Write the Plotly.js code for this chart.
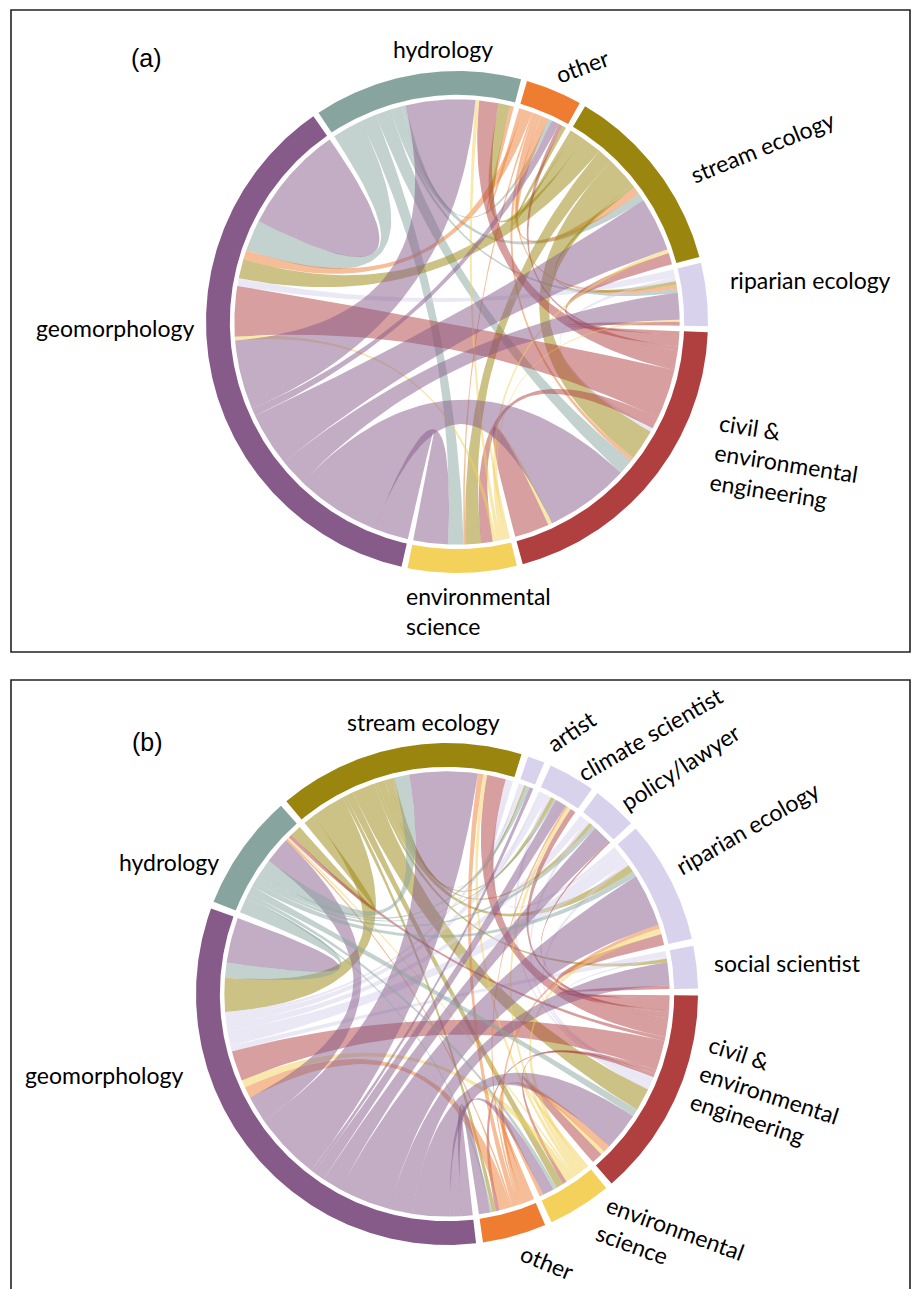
<!DOCTYPE html>
<html><head><meta charset="utf-8">
<script src="https://cdn.plot.ly/plotly-3.0.1.min.js"></script>
<style>html,body{margin:0;padding:0;background:#fff}</style>
</head><body><div id="chart" style="width:912px;height:1289px"></div>
<script>
// ---------------- Panel (a) data ----------------
const catsA = ['hydrology','other','stream ecology','riparian ecology','civil & environmental engineering','environmental science','geomorphology'];
const colorsA = ['#87a59e','#ee7d31','#9a850e','#d8d2ec','#b03f3f','#f3d15a','#865b8a'];
// links: source index, target index, value (sector order clockwise)
const srcA = [0,0,0,0,0,0, 1,1,1,1,1,1, 2,2,2,2,2,2, 3,3, 4,4,4,4,4,4,4, 5,5,5,5,5, 6,6,6,6,6,6,6];
const tgtA = [1,2,3,4,5,6, 0,2,3,4,5,6, 0,1,3,4,5,6, 4,6, 0,1,2,3,4,5,6, 0,2,3,4,6, 0,1,2,3,4,5,6];
const valA = [1,2,1,4,4,8, 1,2,1,1,0.5,2.5, 3,1,1,8,4,5, 1,2, 5,1,3,1,4.5,3,13, 1,1,0.5,1,1, 18,2,14,7,22,9,14];

// ---------------- Panel (b) data ----------------
const catsB = ['stream ecology','artist','climate scientist','policy/lawyer','riparian ecology','social scientist','civil & environmental engineering','environmental science','other','geomorphology','hydrology'];
const colorsB = ['#9a850e','#d8d2ec','#d8d2ec','#d8d2ec','#d8d2ec','#d8d2ec','#b03f3f','#f3d15a','#ee7d31','#865b8a','#87a59e'];
const srcB = [0,0,0,0,0,0,0,0,0,0, 1,1, 2,2,2, 3,3, 4,4,4, 5,5, 6,6,6,6,6,6,6,6,6,6, 7,7,7,7,7,7, 8,8,8,8,8,8,8, 9,9,9,9,9,9,9,9,9,9,9, 10,10,10,10,10,10,10,10,10];
const tgtB = [1,2,3,4,5,6,7,8,9,10, 0,9, 0,6,9, 6,9, 0,6,9, 6,9, 0,2,3,4,5,6,7,8,9,10, 0,2,4,6,9,10, 0,2,4,6,7,9,10, 0,1,2,3,4,5,6,7,8,9,10, 0,1,2,3,4,6,7,8,9];
const valB = [0.5,1,1,2,1,6,2,1,9,3, 0.5,1, 0.5,1,2, 1,2, 1,1,4, 0.5,1.5, 5,1.5,0.5,3,1,1.5,1,1,8,1, 1,1,1.5,1,2,0.5, 1.5,0.5,1,2,1,3,0.5, 18,1,3,5,14,6,10,3,3,6,7, 4,1,0.5,1,1.5,2,1,0.5,4];

const R_OUT = 1.0, R_IN = 0.905, R_CH = 0.887;

function rgba(hex, a){
  const h = hex.replace('#','');
  const r = parseInt(h.substr(0,2),16), g = parseInt(h.substr(2,2),16), b = parseInt(h.substr(4,2),16);
  return 'rgba('+r+','+g+','+b+','+a+')';
}
function pt(r, deg){ const t = deg*Math.PI/180; return [r*Math.cos(t), r*Math.sin(t)]; }
function arcPts(r, d1, d2, xs, ys){
  const steps = Math.max(2, Math.ceil(Math.abs(d2-d1)/0.5));
  for(let s=0;s<=steps;s++){ const p = pt(r, d1+(d2-d1)*s/steps); xs.push(p[0]); ys.push(p[1]); }
}
function bez(p0, p2, xs, ys){
  const N = 40;
  for(let s=1;s<N;s++){ const t=s/N; const a=(1-t)*(1-t), c=t*t;
    xs.push(a*p0[0]+c*p2[0]); ys.push(a*p0[1]+c*p2[1]); }
}

function buildChord(cats, colors, src, tgt, val, startDeg, gapDeg, xa, ya){
  const n = cats.length;
  const total = new Array(n).fill(0);
  for(let k=0;k<src.length;k++){ total[src[k]] += val[k]; total[tgt[k]] += val[k]; }
  const sumAll = total.reduce((a,b)=>a+b,0);
  const scale = (360 - n*gapDeg)/sumAll;
  const start = []; const end = [];
  let a = startDeg;
  for(let i=0;i<n;i++){ start[i]=a; end[i]=a-total[i]*scale; a = end[i]-gapDeg; }
  const ends = cats.map(()=>[]);
  for(let k=0;k<src.length;k++){
    const s=src[k], t=tgt[k];
    if(s===t){ ends[s].push({k, role:'s0', grp:2, d:-1}); ends[s].push({k, role:'s1', grp:2, d:-2}); }
    else { ends[s].push({k, role:'o', grp:0, d:(t-s+n)%n}); ends[t].push({k, role:'i', grp:1, d:(s-t+n)%n}); }
  }
  const pos = {};
  for(let i=0;i<n;i++){
    ends[i].sort((p,q)=> p.grp!==q.grp ? p.grp-q.grp : q.d-p.d);
    let p = 0;
    ends[i].forEach(e=>{ const a1 = start[i]-p*scale; p += val[e.k]; const a2 = start[i]-p*scale; pos[e.k+e.role]=[a1,a2]; });
  }
  const traces = [];
  for(let k=0;k<src.length;k++){
    const s=src[k], t=tgt[k];
    const A = s===t ? pos[k+'s0'] : pos[k+'o'];
    const B = s===t ? pos[k+'s1'] : pos[k+'i'];
    const xs=[], ys=[];
    arcPts(R_CH, A[0], A[1], xs, ys);
    bez(pt(R_CH,A[1]), pt(R_CH,B[0]), xs, ys);
    arcPts(R_CH, B[0], B[1], xs, ys);
    bez(pt(R_CH,B[1]), pt(R_CH,A[0]), xs, ys);
    xs.push(xs[0]); ys.push(ys[0]);
    traces.push({type:'scatter', mode:'lines', x:xs, y:ys, xaxis:xa, yaxis:ya, fill:'toself',
      fillcolor: rgba(colors[s], 0.5), line:{width:0, color:'rgba(0,0,0,0)'}, hoverinfo:'skip', showlegend:false});
  }
  for(let i=0;i<n;i++){
    const xs=[], ys=[];
    arcPts(R_OUT, start[i], end[i], xs, ys);
    arcPts(R_IN, end[i], start[i], xs, ys);
    xs.push(xs[0]); ys.push(ys[0]);
    traces.push({type:'scatter', mode:'lines', x:xs, y:ys, xaxis:xa, yaxis:ya, fill:'toself',
      fillcolor: colors[i], line:{width:0, color:'rgba(0,0,0,0)'}, hoverinfo:'skip', showlegend:false, name:cats[i]});
  }
  return traces;
}

const traces = [].concat(
  buildChord(catsA, colorsA, srcA, tgtA, valA, 123.5, 1.4, 'x', 'y'),
  buildChord(catsB, colorsB, srcB, tgtB, valB, 129.8, 1.6, 'x2', 'y2')
);

// label layout (pixel positions in the 912x1289 figure)
const W = 912, H = 1289;
const LBL = 'Lato, "Open Sans", sans-serif';
function lab(text, px, py, ang, align){
  return {text, x:px/W, y:1-py/H, xref:'paper', yref:'paper', showarrow:false, xanchor:'center', yanchor:'middle',
    textangle: ang||0, align: align||'center', font:{family:LBL, size:23, color:'#000'}};
}
const br = s => s.replace('civil & environmental engineering','civil &<br>environmental<br>engineering').replace('environmental science','environmental<br>science');
const annotations = [
  {text:'(a)', x:146/W, y:1-58/H, xref:'paper', yref:'paper', showarrow:false, xanchor:'center', yanchor:'middle', font:{family:'Liberation Sans, Arial', size:25, color:'#000'}},
  lab(catsA[0], 443, 49, 0),
  lab(catsA[1], 582, 66, -20),
  lab(catsA[2], 762, 147, -22),
  lab(catsA[3], 810, 280, 0),
  lab(br(catsA[4]), 786, 463, 9, 'left'),
  lab(br(catsA[5]), 478, 611, 0, 'left'),
  lab(catsA[6], 115, 328, 0),
  {text:'(b)', x:147/W, y:1-742/H, xref:'paper', yref:'paper', showarrow:false, xanchor:'center', yanchor:'middle', font:{family:'Liberation Sans, Arial', size:25, color:'#000'}},
  lab(catsB[0], 423, 722, 0),
  lab(catsB[1], 571, 731, -34),
  lab(catsB[2], 650, 734, -30),
  lab(catsB[3], 680, 767, -33),
  lab(catsB[4], 747, 828, -30),
  lab(catsB[5], 787, 963, 0),
  lab(br(catsB[6]), 769, 1094, 18, 'left'),
  lab(br(catsB[7]), 670, 1242, 20, 'left'),
  lab(catsB[8], 547, 1262, 22),
  lab(catsB[9], 104, 1075, 0),
  lab(catsB[10], 169, 862, 0)
];

const shapes = [
  {type:'rect', xref:'paper', yref:'paper', x0:11/W, x1:910/W, y0:1-652/H, y1:1-10/H, line:{color:'#222', width:1.6}, fillcolor:'rgba(0,0,0,0)'},
  {type:'rect', xref:'paper', yref:'paper', x0:11/W, x1:910/W, y0:1-1300/H, y1:1-680/H, line:{color:'#222', width:1.6}, fillcolor:'rgba(0,0,0,0)'}
];

const splitY = 1-666/H;
const ax = (range, domain, anchor) => ({range, domain, anchor, visible:false, fixedrange:true, showgrid:false, zeroline:false});
const layout = {
  width:W, height:H, margin:{l:0,r:0,t:0,b:0}, paper_bgcolor:'#ffffff', plot_bgcolor:'rgba(0,0,0,0)', showlegend:false,
  xaxis: ax([-457/251, (912-457)/251], [0,1], 'y'),
  yaxis: ax([-(666-322)/251, 322/251], [splitY,1], 'x'),
  xaxis2: ax([-447/251, (912-447)/251], [0,1], 'y2'),
  yaxis2: ax([-(1289-994)/251, (994-666)/251], [0,splitY], 'x2'),
  shapes, annotations
};
Plotly.newPlot('chart', traces, layout, {staticPlot:true, displayModeBar:false});
</script></body></html>
